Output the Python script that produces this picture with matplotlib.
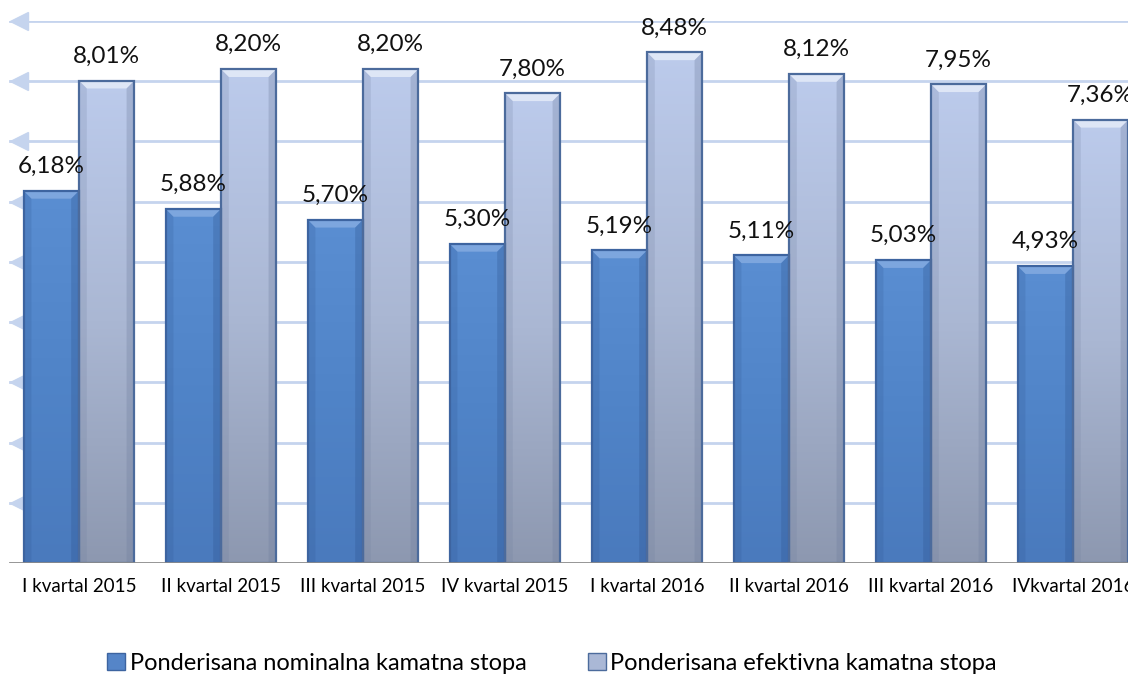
import numpy as np
import matplotlib
matplotlib.use("Agg")
import matplotlib.pyplot as plt
from matplotlib.patches import Rectangle, Polygon, Patch
from matplotlib.colors import LinearSegmentedColormap

plt.rcParams['font.family'] = ['Lato', 'DejaVu Sans']

kvartali = ["I kvartal 2015", "II kvartal 2015", "III kvartal 2015", "IV kvartal 2015",
            "I kvartal 2016", "II kvartal 2016", "III kvartal 2016", "IVkvartal 2016"]
nominalna = [6.18, 5.88, 5.70, 5.30, 5.19, 5.11, 5.03, 4.93]
efektivna = [8.01, 8.20, 8.20, 7.80, 8.48, 8.12, 7.95, 7.36]
naziv_nom = "Ponderisana nominalna kamatna stopa"
naziv_ef = "Ponderisana efektivna kamatna stopa"

grid_c = "#c5d4ee"
W, H = 1128, 679

fig = plt.figure(figsize=(W / 100, H / 100), dpi=100)
ax = fig.add_axes([8 / W, 116 / H, 1136 / W, 542 / H])
ax.set_xlim(-0.5, len(kvartali) - 0.5)
ax.set_ylim(0, 9)

# gridlines with little arrow heads on the left
yy = np.arange(1, 10)
for g in yy:
    ax.axhline(g, color=grid_c, lw=2, zorder=0, xmin=2 / 1136)
ax.plot(np.full(len(yy), 0.01), yy, ls='none', marker='<', ms=13, color=grid_c,
        transform=ax.get_yaxis_transform(), zorder=0, clip_on=False)

ax.axhline(0, color="#8c8c8c", lw=2, zorder=5, xmin=2 / 1136)

bw = 0.39
cm_dark = LinearSegmentedColormap.from_list("d", ["#5a8ed2", "#5084c8", "#4a7abd"])
cm_light = LinearSegmentedColormap.from_list("l", ["#bccbec", "#aab7d3", "#8d98b0"])
bx = 0.055   # bevel width (data x)
by = 0.13    # bevel height (data y)


def bar3d(x0, h, cmap, edge, top_c, side_c):
    grad = np.linspace(0, 1, 256).reshape(-1, 1)
    im = ax.imshow(grad, cmap=cmap, aspect='auto', extent=(x0, x0 + bw, 0, h),
                   zorder=2, origin='upper')
    rect = Rectangle((x0, 0), bw, h, facecolor='none', edgecolor=edge, lw=1.6, zorder=4)
    ax.add_patch(rect)
    im.set_clip_path(rect)
    ax.add_patch(Polygon([(x0, h), (x0 + bw, h), (x0 + bw - bx, h - by), (x0 + bx, h - by)],
                         closed=True, facecolor=top_c, edgecolor='none', zorder=3, alpha=0.9))
    ax.add_patch(Polygon([(x0, h), (x0 + bx, h - by), (x0 + bx, 0), (x0, 0)],
                         closed=True, facecolor=side_c, edgecolor='none', zorder=3, alpha=0.2))
    ax.add_patch(Polygon([(x0 + bw, h), (x0 + bw - bx, h - by), (x0 + bw - bx, 0), (x0 + bw, 0)],
                         closed=True, facecolor=side_c, edgecolor='none', zorder=3, alpha=0.3))


x = np.arange(len(kvartali))
for i in range(len(kvartali)):
    bar3d(x[i] - bw, nominalna[i], cm_dark, "#3d64a0", "#82a9e0", "#2f5590")
    bar3d(x[i], efektivna[i], cm_light, "#4c6b9c", "#e3eaf8", "#6d7c9c")
    ax.annotate(f"{nominalna[i]:.2f}%".replace(".", ","), (x[i] - bw / 2, nominalna[i]),
                xytext=(0, 10), textcoords='offset points', ha='center', va='bottom',
                fontsize=17.5, color="#111111", zorder=6)
    ax.annotate(f"{efektivna[i]:.2f}%".replace(".", ","), (x[i] + bw / 2, efektivna[i]),
                xytext=(0, 10), textcoords='offset points', ha='center', va='bottom',
                fontsize=17.5, color="#111111", zorder=6)

ax.set_xticks(x)
ax.set_xticklabels(kvartali, fontsize=13.5)
ax.tick_params(axis='x', length=0, pad=11)
ax.set_yticks([])
for s in ax.spines.values():
    s.set_visible(False)

handles = [Patch(facecolor="#5585c8", edgecolor="#3d64a0", label=naziv_nom),
           Patch(facecolor="#aab8d6", edgecolor="#4c6b9c", label=naziv_ef)]
fig.legend(handles=handles, loc='center', bbox_to_anchor=(552 / W, 16 / H), ncol=2,
           frameon=False, fontsize=17, handlelength=0.75, handleheight=0.75,
           handletextpad=0.2, columnspacing=2.6)

fig.savefig("out.png", dpi=100)
